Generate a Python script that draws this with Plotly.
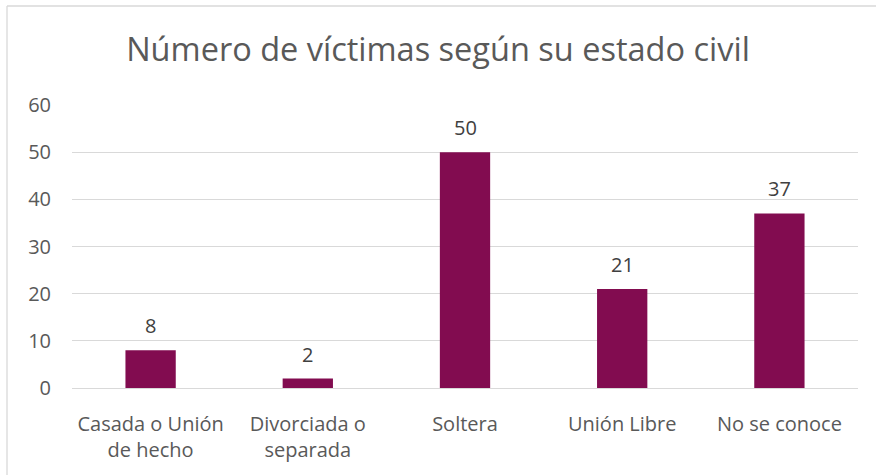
import plotly.graph_objects as go

categories = ["Casada o Unión<br>de hecho", "Divorciada o<br>separada", "Soltera", "Unión Libre", "No se conoce"]
values = [8, 2, 50, 21, 37]
y_ticks = [0, 10, 20, 30, 40, 50, 60]

W, H = 876, 475
L, R, T, B = 72, 18, 105, 87

fig = go.Figure(go.Bar(
    x=categories, y=values,
    marker=dict(color="#820C50", line=dict(width=0)),
    width=0.32,
))

for c, v in zip(categories, values):
    fig.add_annotation(x=c, y=v, text=str(v), showarrow=False, yanchor="bottom",
                       yshift=9, font=dict(size=20, color="#404040"))

pw = W - L - R
ph = H - T - B
bx = (7 - L) / pw
by = (H - 6 - B) / ph
fig.add_shape(type="line", xref="paper", yref="paper", x0=bx, x1=(W - L) / pw, y0=by, y1=by,
              line=dict(color="#D9D9D9", width=1.3), layer="below")
fig.add_shape(type="line", xref="paper", yref="paper", x0=bx, x1=bx, y0=by, y1=-B / ph,
              line=dict(color="#D9D9D9", width=1.3), layer="below")

fig.update_layout(
    width=W, height=H,
    margin=dict(l=L, r=R, t=T, b=B),
    paper_bgcolor="white", plot_bgcolor="white",
    font=dict(family="Open Sans, Liberation Sans, sans-serif", color="#595959"),
    title=dict(text="Número de víctimas según su estado civil", x=0.5, xanchor="center",
               y=1 - 50 / H, yanchor="middle", font=dict(size=32.5, color="#595959")),
    showlegend=False,
    bargap=0.68,
    xaxis=dict(showline=False, ticks="", ticklabelstandoff=22,
               tickfont=dict(size=20, color="#595959")),
    yaxis=dict(range=[0, 60], tickvals=y_ticks, showgrid=True, gridcolor="#D9D9D9", gridwidth=1.3,
               zeroline=True, zerolinecolor="#D9D9D9", zerolinewidth=1.3,
               showline=False, ticks="", ticklabelstandoff=20,
               tickfont=dict(size=20, color="#595959")),
)

fig.write_html("out.html", config={"displayModeBar": False},
               post_script="document.body.style.margin='0';document.body.style.overflow='hidden';document.documentElement.style.overflow='hidden';")
